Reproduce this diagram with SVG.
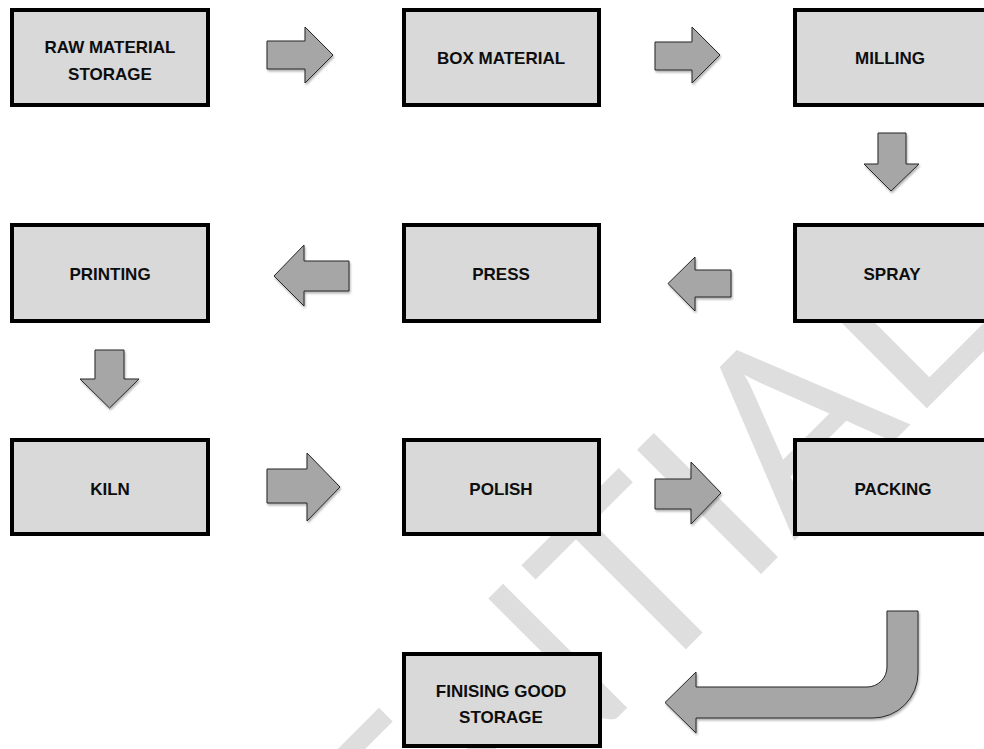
<svg xmlns="http://www.w3.org/2000/svg" width="984" height="749" viewBox="0 0 984 749">
<style>
.box{fill:#d9d9d9;stroke:#000;stroke-width:4}
.lbl{font-family:"Liberation Sans",Arial,sans-serif;font-weight:bold;font-size:17px;fill:#0d0d0d;text-anchor:middle}
.arr{fill:#a6a6a6;stroke:#262626;stroke-width:1;stroke-linejoin:miter;filter:url(#sh)}
.wm{font-family:Lato,"Liberation Sans",sans-serif;font-weight:400;font-size:245px;fill:#dedede;text-anchor:end}
</style>
<defs>
<filter id="sh" x="-20%" y="-20%" width="140%" height="140%">
<feDropShadow dx="1" dy="2" stdDeviation="1.2" flood-color="#000" flood-opacity="0.3"/>
</filter>
</defs>
<rect width="984" height="749" fill="#fff"/>
<g id="watermark">
<text class="wm" transform="translate(1000,335) rotate(-45)">CONFIDENTIAL</text>
</g>
<g id="connectors">
<path class="arr" d="M267,41 H305 V27 L333,55 L305,83 V69 H267 Z"/>
<path class="arr" d="M655,42 H692 V27 L720,55 L692,83 V70 H655 Z"/>
<path class="arr" d="M878,133 H906 V164 H919 L891,191 L864,164 H878 Z"/>
<path class="arr" d="M731,270 H695 V257 L668,283.5 L695,311 V297 H731 Z"/>
<path class="arr" d="M349,261 H304 V245 L274,276 L304,306 V291 H349 Z"/>
<path class="arr" d="M95,350 H124 V379 H139 L109.5,408 L80,379 H95 Z"/>
<path class="arr" d="M267,469 H307 V453 L340,487 L307,521 V503 H267 Z"/>
<path class="arr" d="M655,479 H691 V462 L721,493 L691,524 V509 H655 Z"/>
<path class="arr" d="M887,611 H918 V673 A45,45 0 0 1 873,718 H696 V733 L665,702.5 L696,672 V687 H867 A20,20 0 0 0 887,667 Z"/>
</g>
<g id="raw-material-storage">
<rect class="box" x="12" y="10" width="196" height="95"/>
<text class="lbl" x="110" y="53">RAW MATERIAL</text>
<text class="lbl" x="110" y="80">STORAGE</text>
</g>
<g id="box-material">
<rect class="box" x="404" y="10" width="195" height="95"/>
<text class="lbl" x="501" y="64">BOX MATERIAL</text>
</g>
<g id="milling">
<rect class="box" x="795" y="10" width="200" height="95"/>
<text class="lbl" x="890" y="64">MILLING</text>
</g>
<g id="printing">
<rect class="box" x="12" y="225" width="196" height="96"/>
<text class="lbl" x="110" y="280">PRINTING</text>
</g>
<g id="press">
<rect class="box" x="404" y="225" width="195" height="96"/>
<text class="lbl" x="501" y="280">PRESS</text>
</g>
<g id="spray">
<rect class="box" x="795" y="225" width="200" height="96"/>
<text class="lbl" x="892" y="280">SPRAY</text>
</g>
<g id="kiln">
<rect class="box" x="12" y="440" width="196" height="94"/>
<text class="lbl" x="110" y="495">KILN</text>
</g>
<g id="polish">
<rect class="box" x="404" y="440" width="195" height="94"/>
<text class="lbl" x="501" y="495">POLISH</text>
</g>
<g id="packing">
<rect class="box" x="795" y="440" width="200" height="94"/>
<text class="lbl" x="893" y="495">PACKING</text>
</g>
<g id="finising-good-storage">
<rect class="box" x="404" y="654" width="196" height="92"/>
<text class="lbl" x="501" y="697">FINISING GOOD</text>
<text class="lbl" x="501" y="723">STORAGE</text>
</g>
</svg>
